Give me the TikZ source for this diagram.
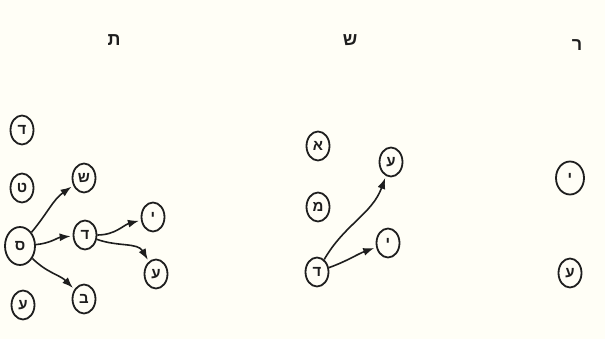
\documentclass[tikz,border=0pt]{standalone}
\usepackage{fontspec}
\newfontfamily\hebfont[Script=Hebrew]{Liberation Sans}
\TeXXeTstate=1
\usetikzlibrary{shapes.geometric,arrows.meta}
\definecolor{paper}{RGB}{255,254,246}
\definecolor{ink}{RGB}{30,30,30}
\begin{document}
\begin{tikzpicture}[x=1pt, y=-1pt, >={Latex[length=11pt,width=8pt]},
    v/.style={draw=ink, line width=1.8pt, ellipse, minimum width=23pt, minimum height=29pt, inner sep=0pt, font=\hebfont\bfseries\fontsize{15}{15}\selectfont, text=ink},
    big/.style={minimum width=30pt, minimum height=38pt},
    lbl/.style={font=\hebfont\bfseries\fontsize{18}{18}\selectfont, text=ink},
    e/.style={draw=ink, line width=1.6pt, ->, shorten >=2pt}]
    \fill[paper] (0,0) rectangle (605,339);
    \useasboundingbox (0,0) rectangle (605,339);
    % labels
    \node[lbl] (la) at (114,40) {ת};
    \node[lbl] (lb) at (350,40) {ש};
    \node[lbl] (lc) at (577,45) {ר};
    % forest a
    \node[v] (a1) at (22,130) {ד};
    \node[v] (a2) at (22,188) {ט};
    \node[v, big] (a0) at (20,246) {ס};
    \node[v] (a4) at (23,305) {ע};
    \node[v] (as) at (84,178) {ש};
    \node[v] (ad) at (85,235) {ד};
    \node[v] (ab) at (84,299) {ב};
    \node[v] (ay) at (153,217) {י};
    \node[v] (aa) at (156,274) {ע};
    \draw[e] (a0) to[out=50, in=215] (as);
    \draw[e] (a0) to[out=5, in=185] (ad);
    \draw[e] (a0) to[out=-45, in=135] (ab);
    \draw[e] (ad) to[out=0, in=195] (ay);
    \draw[e] (ad) to[out=-20, in=120] (aa);
    % forest b
    \node[v] (b1) at (318,146) {א};
    \node[v] (b2) at (318,207) {מ};
    \node[v] (b0) at (317,272) {ד};
    \node[v] (bu) at (391,162) {ע};
    \node[v] (br) at (388,243) {י};
    \draw[e] (b0) to[out=60, in=250] (bu);
    \draw[e] (b0) to[out=20, in=200] (br);
    % forest c
    \node[v, minimum width=28pt, minimum height=33pt] (c1) at (570,178) {י};
    \node[v] (c2) at (570,273) {ע};
\end{tikzpicture}
\end{document}
